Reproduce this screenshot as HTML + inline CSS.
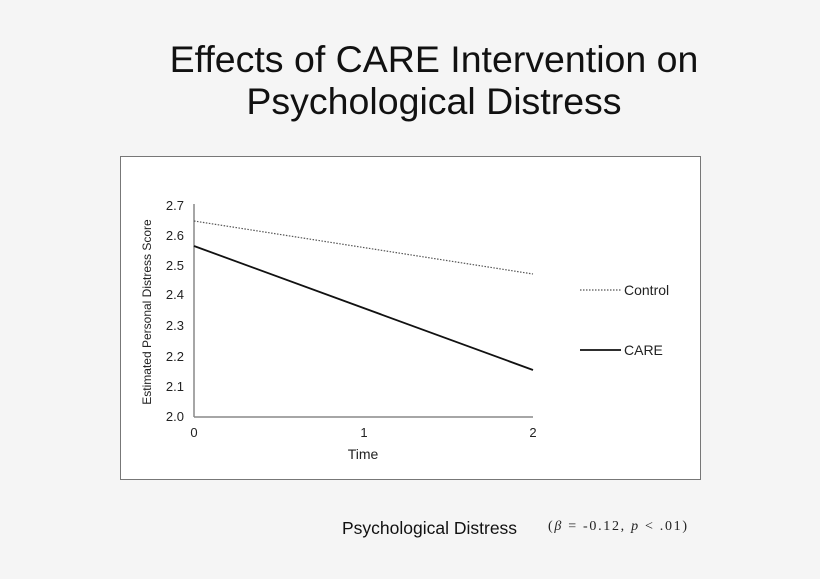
<!DOCTYPE html>
<html><head><meta charset="utf-8"><style>
body{margin:0;width:820px;height:579px;background:#f5f5f5;overflow:hidden;position:relative;font-family:"Liberation Sans",sans-serif}
.t{position:absolute;left:0;width:868px;text-align:center;font-size:37.5px;color:#111;line-height:40px}
</style></head><body>
<div class="t" style="top:39px">Effects of CARE Intervention on</div>
<div class="t" style="top:81px">Psychological Distress</div>
<svg width="820" height="579" style="position:absolute;left:0;top:0" font-family="Liberation Sans, sans-serif">
<rect x="120.5" y="156.5" width="580" height="323" fill="#fff" stroke="#777" stroke-width="1"/>
<line x1="194" y1="204" x2="194" y2="417" stroke="#888" stroke-width="1.5"/>
<line x1="194" y1="417" x2="533" y2="417" stroke="#888" stroke-width="1.5"/>
<g font-size="13" fill="#222" text-anchor="end">
<text x="184" y="210">2.7</text><text x="184" y="240">2.6</text><text x="184" y="270">2.5</text><text x="184" y="299">2.4</text><text x="184" y="330">2.3</text><text x="184" y="361">2.2</text><text x="184" y="391">2.1</text><text x="184" y="421">2.0</text>
</g>
<g font-size="13" fill="#222" text-anchor="middle">
<text x="194" y="437">0</text><text x="364" y="437">1</text><text x="533" y="437">2</text>
<text x="363" y="459" font-size="14">Time</text>
<text transform="translate(151,312) rotate(-90)" font-size="12">Estimated Personal Distress Score</text>
</g>
<line x1="194" y1="221" x2="533" y2="274" stroke="#555" stroke-width="1.2" stroke-dasharray="1.5,1.5"/>
<line x1="194" y1="246" x2="533" y2="370" stroke="#111" stroke-width="1.8"/>
<line x1="580" y1="290" x2="621" y2="290" stroke="#555" stroke-width="1.2" stroke-dasharray="1.5,1.5"/>
<line x1="580" y1="350" x2="621" y2="350" stroke="#111" stroke-width="1.8"/>
<text x="624" y="295" font-size="14" fill="#222">Control</text>
<text x="624" y="355" font-size="14" fill="#222">CARE</text>
<text x="342" y="534" font-size="17.5" fill="#111">Psychological Distress</text>
<text x="548" y="530" font-size="14" fill="#222" font-family="Liberation Serif, serif" textLength="139" lengthAdjust="spacing">(<tspan font-style="italic">β</tspan> = -0.12, <tspan font-style="italic">p</tspan> &lt; .01)</text>
</svg>
</body></html>
